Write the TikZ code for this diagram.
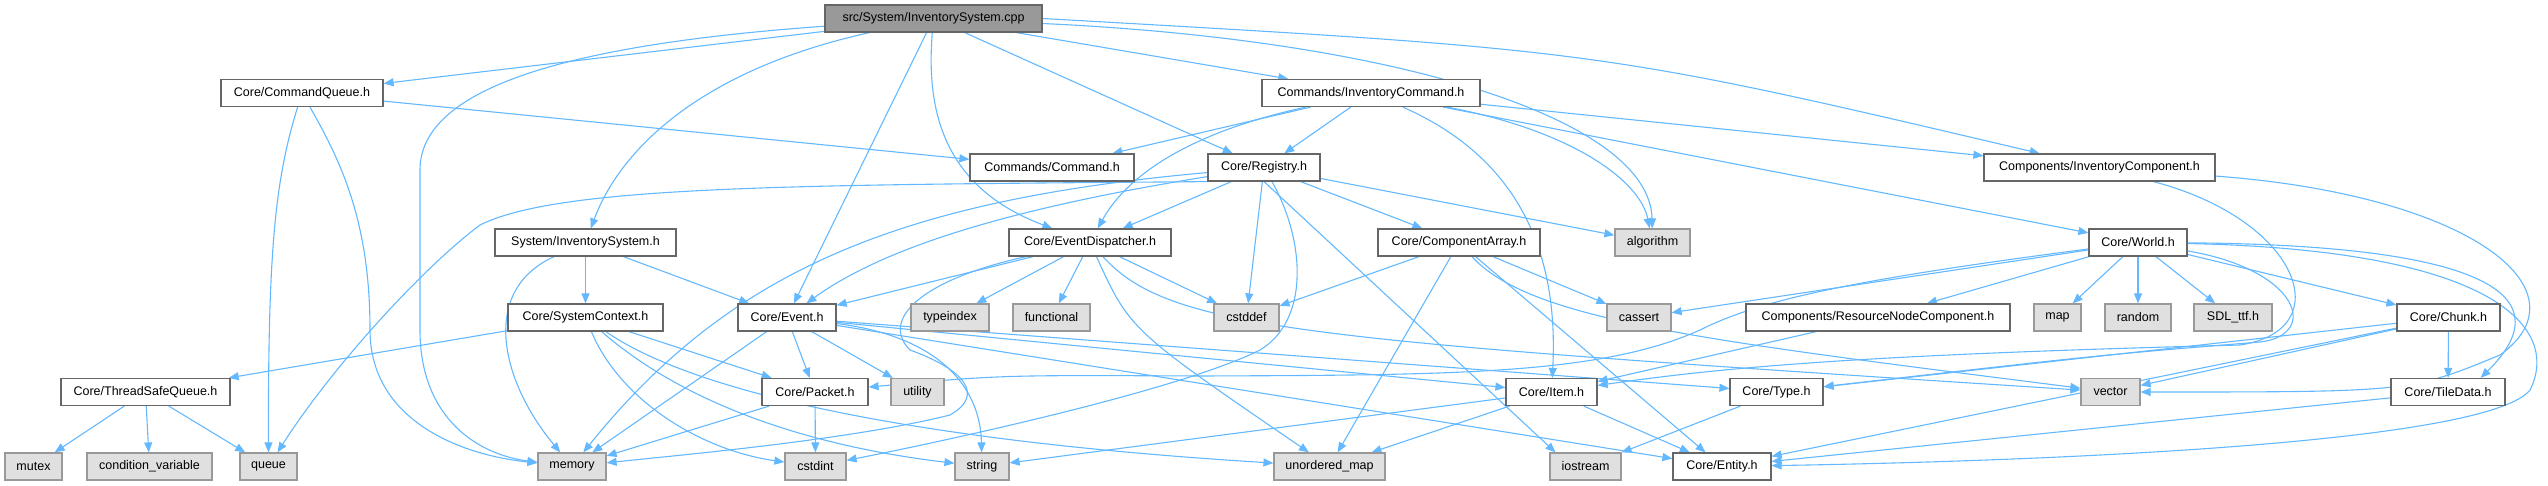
\documentclass[tikz,border=0pt]{standalone}
\usepackage{fontspec}
\setmainfont{Liberation Sans}
\usetikzlibrary{arrows.meta,backgrounds}
\definecolor{edgeblue}{HTML}{63B8FF}
\definecolor{hdrline}{HTML}{666666}
\definecolor{sysline}{HTML}{999999}
\definecolor{sysfill}{HTML}{E0E0E0}
\definecolor{srcfill}{HTML}{999999}
\tikzset{
  box/.style={draw=hdrline, line width=1.2pt, fill=white, minimum height=27pt, inner sep=0pt, font=\fontsize{12.5}{14}\selectfont},
  hdr/.style={box},
  sys/.style={box, draw=sysline, fill=sysfill},
  src/.style={box, fill=srcfill},
  dep/.style={draw=edgeblue, line width=1.1pt, -{Triangle[length=10pt,width=8pt]}}
}
\begin{document}
\begin{tikzpicture}[x=1pt,y=-1pt]
\useasboundingbox (0,0) rectangle (2548,485);
\node[src, minimum width=217pt] (root) at (933.5,18.5) {src/System/InventorySystem.cpp};
\node[hdr, minimum width=162pt] (cq) at (302,93) {Core/CommandQueue.h};
\node[hdr, minimum width=218pt] (invcmd) at (1371,93) {Commands/InventoryCommand.h};
\node[hdr, minimum width=164pt] (command) at (1052,167.5) {Commands/Command.h};
\node[hdr, minimum width=112pt] (registry) at (1264,167.5) {Core/Registry.h};
\node[hdr, minimum width=231pt] (invcomp) at (2099.5,167.5) {Components/InventoryComponent.h};
\node[hdr, minimum width=181pt] (invsys) at (585.5,242.5) {System/InventorySystem.h};
\node[hdr, minimum width=162pt] (evdisp) at (1090,242.5) {Core/EventDispatcher.h};
\node[hdr, minimum width=162pt] (comparr) at (1459,242.5) {Core/ComponentArray.h};
\node[sys, minimum width=75pt] (algorithm) at (1652.5,242.5) {algorithm};
\node[hdr, minimum width=98pt] (world) at (2138,242.5) {Core/World.h};
\node[hdr, minimum width=155pt] (sysctx) at (585.5,317.5) {Core/SystemContext.h};
\node[hdr, minimum width=98pt] (event) at (787,317.5) {Core/Event.h};
\node[sys, minimum width=78pt] (typeindex) at (950,317.5) {typeindex};
\node[sys, minimum width=77pt] (functional) at (1051.5,317.5) {functional};
\node[sys, minimum width=65pt] (cstddef) at (1246.5,317.5) {cstddef};
\node[sys, minimum width=64pt] (cassert) at (1639,317.5) {cassert};
\node[hdr, minimum width=264pt] (resnode) at (1878,317.5) {Components/ResourceNodeComponent.h};
\node[sys, minimum width=47pt] (map) at (2057.5,317.5) {map};
\node[sys, minimum width=66pt] (random) at (2138,317.5) {random};
\node[sys, minimum width=78pt] (sdlttf) at (2233,317.5) {SDL\_ttf.h};
\node[hdr, minimum width=103pt] (chunk) at (2448.5,317.5) {Core/Chunk.h};
\node[hdr, minimum width=169pt] (tsq) at (145.5,392) {Core/ThreadSafeQueue.h};
\node[hdr, minimum width=106pt] (packet) at (815,392) {Core/Packet.h};
\node[sys, minimum width=53pt] (utility) at (917.5,392) {utility};
\node[hdr, minimum width=91pt] (item) at (1551.5,392) {Core/Item.h};
\node[hdr, minimum width=93pt] (type) at (1776.5,392) {Core/Type.h};
\node[sys, minimum width=59pt] (vector) at (2110.5,392) {vector};
\node[hdr, minimum width=114pt] (tiledata) at (2448,392) {Core/TileData.h};
\node[sys, minimum width=57pt] (mutex) at (33.5,466.5) {mutex};
\node[sys, minimum width=125pt] (condvar) at (149.5,466.5) {condition\_variable};
\node[sys, minimum width=57pt] (queue) at (268.5,466.5) {queue};
\node[sys, minimum width=68pt] (memory) at (572,466.5) {memory};
\node[sys, minimum width=61pt] (cstdint) at (815.5,466.5) {cstdint};
\node[sys, minimum width=54pt] (string) at (982,466.5) {string};
\node[sys, minimum width=111pt] (umap) at (1329.5,466.5) {unordered\_map};
\node[sys, minimum width=71pt] (iostream) at (1585.5,466.5) {iostream};
\node[hdr, minimum width=98pt] (entity) at (1722,466.5) {Core/Entity.h};
\begin{pgfonlayer}{background}
\draw[dep] (root) -- (cq);
\draw[dep] (root) .. controls (560,45) and (420,90) .. (420,170) -- (420,330) .. controls (420,420) and (480,455) .. (memory);
\draw[dep] (root) .. controls (700,70) and (620,150) .. (invsys);
\draw[dep] (root) -- (event);
\draw[dep] (root) .. controls (925,120) and (950,190) .. (evdisp);
\draw[dep] (root) -- (registry);
\draw[dep] (root) -- (invcmd);
\draw[dep] (root) .. controls (1400,40) and (1650,120) .. (algorithm);
\draw[dep] (root.east) .. controls (1600,50) .. (invcomp);
\draw[dep] (cq) -- (command);
\draw[dep] (cq) .. controls (275,180) and (268,250) .. (queue);
\draw[dep] (cq) .. controls (340,160) and (370,220) .. (370,330) .. controls (370,420) and (460,455) .. (memory);
\draw[dep] (invcmd) -- (command);
\draw[dep] (invcmd) -- (registry);
\draw[dep] (invcmd) .. controls (1200,130) and (1130,170) .. (evdisp);
\draw[dep] (invcmd) .. controls (1500,150) and (1560,230) .. (item);
\draw[dep] (invcmd) -- (world);
\draw[dep] (invcmd) -- (invcomp);
\draw[dep] (invcmd) .. controls (1570,130) and (1640,180) .. (algorithm);
\draw[dep] (registry.south west) .. controls (800,185) and (560,185) .. (480,225) .. controls (420,270) and (330,370) .. (queue);
\draw[dep] (registry) .. controls (900,200) and (730,270) .. (memory);
\draw[dep] (registry) .. controls (1000,210) and (880,250) .. (event);
\draw[dep] (registry) -- (evdisp);
\draw[dep] (registry) -- (cstddef);
\draw[dep] (registry) .. controls (1305,240) and (1310,320) .. (1260,350) .. controls (1180,390) and (950,440) .. (cstdint);
\draw[dep] (registry.south) -- ([xshift=-30pt]iostream.north);
\draw[dep] (registry) -- (comparr);
\draw[dep] (registry) -- (algorithm);
\draw[dep] (invsys) -- (sysctx);
\draw[dep] (invsys) -- (event);
\draw[dep] (invsys) .. controls (480,290) and (500,380) .. (memory);
\draw[dep] (sysctx) -- (tsq);
\draw[dep] (sysctx) -- (packet);
\draw[dep] (sysctx) .. controls (620,400) and (700,450) .. (cstdint);
\draw[dep] (sysctx) .. controls (680,400) and (800,445) .. (string);
\draw[dep] (sysctx) .. controls (690,390) and (900,440) .. (umap);
\draw[dep] (tsq) -- (mutex);
\draw[dep] (tsq) -- (condvar);
\draw[dep] (tsq) -- (queue);
\draw[dep] (event) -- (packet);
\draw[dep] (event) -- (utility);
\draw[dep] (event) -- (memory);
\draw[dep] (event) .. controls (930,335) and (980,380) .. (string);
\draw[dep] (event) -- (item);
\draw[dep] (event) -- (type);
\draw[dep] (event) -- (entity);
\draw[dep] (evdisp) -- (event);
\draw[dep] (evdisp) .. controls (920,280) and (880,320) .. (910,350) .. controls (965,370) and (985,395) .. (950,415) .. controls (850,440) and (680,455) .. (memory);
\draw[dep] (evdisp) -- (typeindex);
\draw[dep] (evdisp) -- (functional);
\draw[dep] (evdisp) -- (cstddef);
\draw[dep] (evdisp) .. controls (1130,330) .. (umap);
\draw[dep] (evdisp) .. controls (1170,330) and (1300,340) .. (vector);
\draw[dep] (comparr) -- (cstddef);
\draw[dep] (comparr) -- (umap);
\draw[dep] (comparr) -- (cassert);
\draw[dep] (comparr) -- (entity);
\draw[dep] (comparr) .. controls (1530,320) and (1700,340) .. (vector);
\draw[dep] (world) -- (cassert);
\draw[dep] (world) .. controls (1850,280) and (1760,300) .. (1700,330) .. controls (1600,375) and (1450,375) .. (1200,376) .. controls (1000,375) .. (packet);
\draw[dep] (world) -- (resnode);
\draw[dep] (world) -- (map);
\draw[dep] (world) -- (random);
\draw[dep] (world) -- (sdlttf);
\draw[dep] (world) -- (chunk);
\draw[dep] (world) .. controls (2500,245) and (2560,300) .. ([xshift=-25pt]tiledata.north east);
\draw[dep] (world) .. controls (2500,250) and (2560,330) .. (2530,390) .. controls (2490,440) and (2100,460) .. (entity);
\draw[dep] (world) .. controls (2300,270) and (2320,335) .. (2260,342) .. controls (2100,355) .. (type);
\draw[dep] (invcomp) .. controls (2470,195) and (2590,290) .. (2500,355) .. controls (2410,392) .. (vector);
\draw[dep] (invcomp) .. controls (2300,220) and (2340,330) .. (2240,345) .. controls (1850,355) and (1720,368) .. (item);
\draw[dep] (chunk) -- (tiledata);
\draw[dep] (chunk) -- (vector);
\draw[dep] (chunk) -- (entity);
\draw[dep] (chunk) -- (type);
\draw[dep] (resnode) -- (item);
\draw[dep] (packet) -- (memory);
\draw[dep] (packet) -- (cstdint);
\draw[dep] (item) -- (string);
\draw[dep] (item) -- (umap);
\draw[dep] (item) -- (entity);
\draw[dep] (type) -- (iostream);
\draw[dep] (tiledata) -- (entity);
\end{pgfonlayer}
\end{tikzpicture}
\end{document}
